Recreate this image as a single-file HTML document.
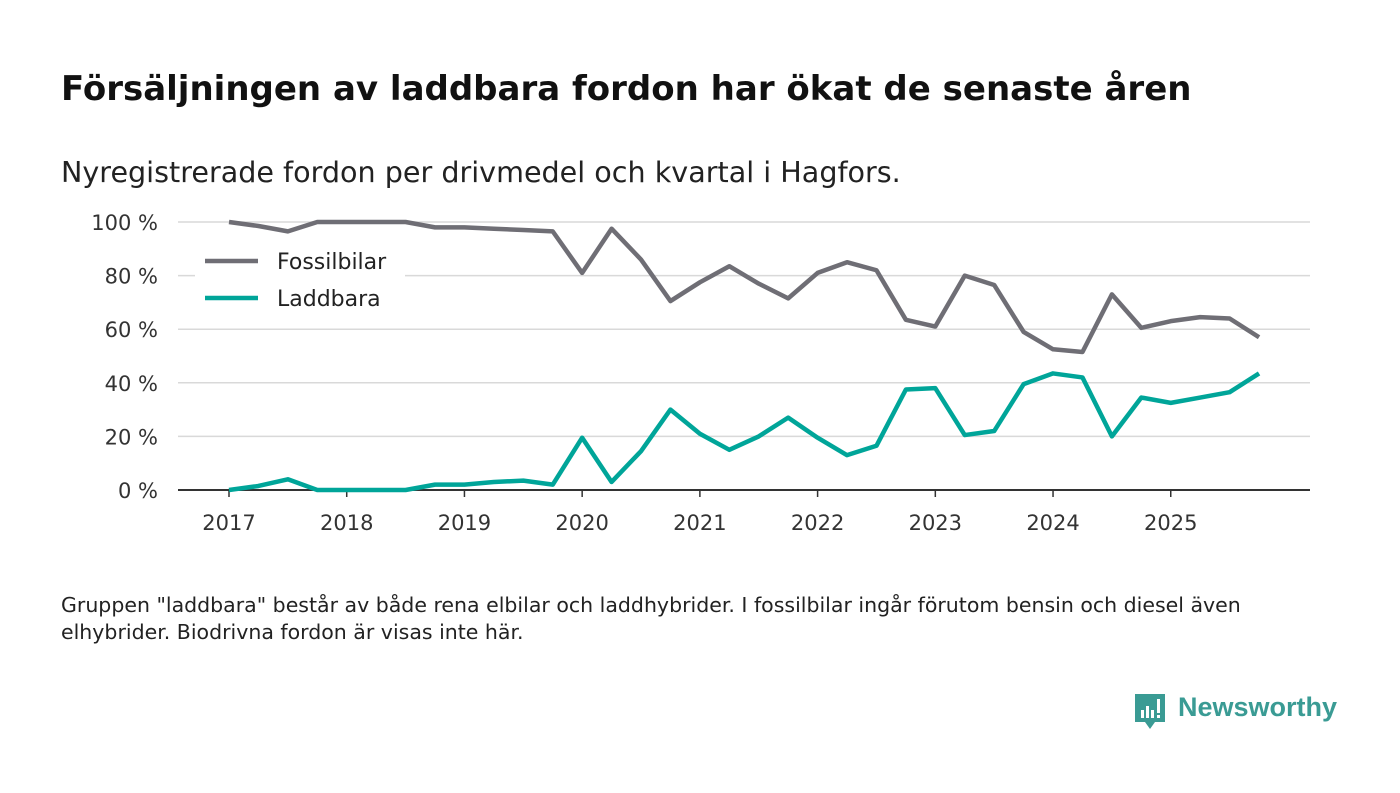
<!DOCTYPE html>
<html><head><meta charset="utf-8"><style>
body{margin:0;width:1400px;height:793px;background:#fff;font-family:"DejaVu Sans",sans-serif;overflow:hidden;position:relative}
.t{position:absolute;white-space:nowrap;color:#111}
</style></head><body>
<div class="t" style="left:61px;top:69px;font-size:34px;font-weight:bold">Försäljningen av laddbara fordon har ökat de senaste åren</div>
<div class="t" style="left:61px;top:155px;font-size:28.6px;color:#222">Nyregistrerade fordon per drivmedel och kvartal i Hagfors.</div>
<svg id="chart" style="position:absolute;left:0;top:0" width="1400" height="560"></svg>
<div class="t" style="left:61px;top:592px;font-size:20.5px;line-height:27px;color:#222;white-space:normal;width:1270px">Gruppen "laddbara" består av både rena elbilar och laddhybrider. I fossilbilar ingår förutom bensin och diesel även elhybrider. Biodrivna fordon är visas inte här.</div>
<div style="position:absolute;left:1133px;top:692px">
<svg width="34" height="42"><path d="M2 2h30v28H22l-5 7-5-7H2z" fill="#3a9b94"/><rect x="8" y="18" width="3" height="8" fill="#fff"/><rect x="13" y="14" width="3" height="12" fill="#fff"/><rect x="18" y="18" width="3" height="8" fill="#fff"/><rect x="24" y="7" width="3" height="14" fill="#fff"/><rect x="24" y="23" width="3" height="3" fill="#fff"/></svg>
<span style="position:absolute;left:45px;top:0px;font-size:27px;font-weight:bold;color:#3a9b94;font-family:'Liberation Sans',sans-serif">Newsworthy</span>
</div>
<script>
const years=["2017","2018","2019","2020","2021","2022","2023","2024","2025"];
const yTicks=[0,20,40,60,80,100];
const fossil=[100,98.5,96.5,100,100,100,100,98,98,97.5,97,96.5,81,97.5,86,70.5,77.5,83.5,77,71.5,81,85,82,63.5,61,80,76.5,59,52.5,51.5,73,60.5,63,64.5,64,57];
const laddbara=[0,1.5,4,0,0,0,0,2,2,3,3.5,2,19.5,3,14.5,30,21,15,20,27,19.5,13,16.5,37.5,38,20.5,22,39.5,43.5,42,20,34.5,32.5,34.5,36.5,43.5];
const svg=document.getElementById('chart');const NS='http://www.w3.org/2000/svg';
const x=i=>229+i*29.43, y=v=>490-v*2.68;
function el(t,a,p){const e=document.createElementNS(NS,t);for(const k in a)e.setAttribute(k,a[k]);(p||svg).appendChild(e);return e;}
yTicks.forEach(v=>{
 if(v>0){const g=el('line',{x1:178,x2:1310,y1:y(v),y2:y(v),stroke:'#d9d9d9','stroke-width':1.5});
 
 }
 const t=el('text',{x:158,y:y(v)+8,'text-anchor':'end','font-size':21,fill:'#333'});t.textContent=v+' %';
 
 
});
const ax=el('line',{x1:178,x2:1310,y1:490,y2:490,stroke:'#333','stroke-width':2});


years.forEach((yr,k)=>{
 const px=x(k*4);
 el('line',{x1:px,x2:px,y1:490,y2:497,stroke:'#333','stroke-width':1.5});
 const t=el('text',{x:px,y:530,'text-anchor':'middle','font-size':21,fill:'#333'});t.textContent=yr;
 
 
});
function line(d,c,n){const p=el('polyline',{points:d.map((v,i)=>x(i)+','+y(v)).join(' '),fill:'none',stroke:c,'stroke-width':4.5,'stroke-linejoin':'round'});
 
 }
line(fossil,'#6f6e75','fossilbilar-line');
line(laddbara,'#00a599','laddbara-line');
const lb=el('rect',{x:195,y:240,width:210,height:78,fill:'#fff'});


[['Fossilbilar','#6f6e75',261],['Laddbara','#00a599',298]].forEach(([n,c,yy])=>{
 const l=el('line',{x1:205,x2:258,y1:yy,y2:yy,stroke:c,'stroke-width':4.5});
 
 
 const t=el('text',{x:277,y:yy+8,'font-size':22,fill:'#222'});t.textContent=n;
 
 
});
</script>
</body></html>
